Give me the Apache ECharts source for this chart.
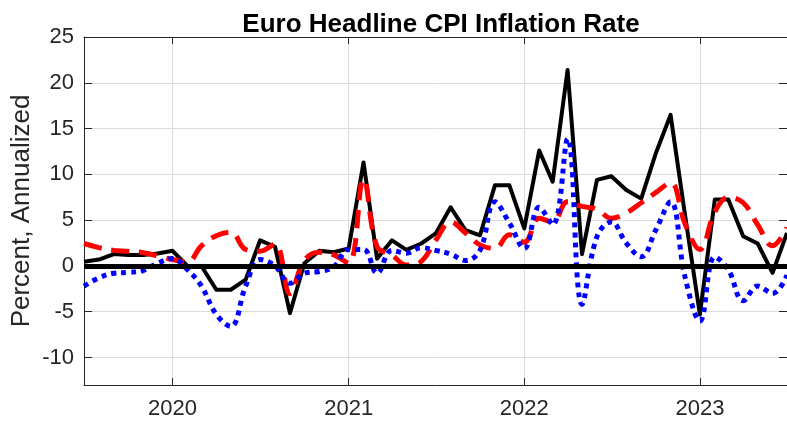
<!DOCTYPE html>
<html>
<head>
<meta charset="utf-8">
<title>Euro Headline CPI Inflation Rate</title>
<script src="https://cdn.jsdelivr.net/npm/echarts@6/dist/echarts.min.js"></script>
<style>
html, body { margin: 0; padding: 0; background: #fff; }
#main { width: 787px; height: 425px; }
</style>
</head>
<body>
<div id="main"></div>
<script>
// monthly observations, Jul 2019 .. Jul 2023
var months = [
  '2019-07-01','2019-08-01','2019-09-01','2019-10-01','2019-11-01','2019-12-01',
  '2020-01-01','2020-02-01','2020-03-01','2020-04-01','2020-05-01','2020-06-01',
  '2020-07-01','2020-08-01','2020-09-01','2020-10-01','2020-11-01','2020-12-01',
  '2021-01-01','2021-02-01','2021-03-01','2021-04-01','2021-05-01','2021-06-01',
  '2021-07-01','2021-08-01','2021-09-01','2021-10-01','2021-11-01','2021-12-01',
  '2022-01-01','2022-02-01','2022-03-01','2022-04-01','2022-05-01','2022-06-01',
  '2022-07-01','2022-08-01','2022-09-01','2022-10-01','2022-11-01','2022-12-01',
  '2023-01-01','2023-02-01','2023-03-01','2023-04-01','2023-05-01','2023-06-01',
  '2023-07-01'
];

// black solid
var headline = [
  0.45, 0.7, 1.3, 1.2, 1.2, 1.35,
  1.65, 0.0, 0.0, -2.6, -2.6, -1.5,
  2.8, 2.1, -5.15, 0.3, 1.65, 1.5,
  1.9, 11.3, 0.8, 2.8, 1.75, 2.45,
  3.55, 6.4, 3.9, 3.35, 8.8, 8.8,
  4.1, 12.6, 9.2, 21.4, 1.3, 9.4,
  9.8, 8.3, 7.35, 12.25, 16.5, 5.6,
  -5.3, 7.25, 7.25, 3.25, 2.45, -0.75,
  3.6
];

// red dashed
var redLine = [
  2.45, 2.0, 1.7, 1.6, 1.45, 1.1,
  0.7, 0.45, 2.2, 3.3, 3.7, 1.8,
  1.6, 2.4, -3.0, 0.6, 1.5, 1.2,
  0.3, 9.5, 2.1, 1.2, 0.1, 0.5,
  2.8, 4.8, 3.6, 2.3, 1.9, 3.4,
  2.6, 5.2, 4.8, 7.0, 6.5, 6.2,
  5.2, 5.8, 6.9, 8.0, 9.1, 4.6,
  1.8, 5.9, 7.5, 6.9, 4.5, 2.2,
  4.2
];

// blue dotted
var blueLine = [
  -2.2, -1.3, -0.8, -0.7, -0.5, 0.3,
  0.8, -0.4, -2.2, -5.3, -6.6, -2.2,
  0.7, 0.0, -1.9, -0.8, -0.6, -0.1,
  1.8, 1.8, -0.8, 1.7, 1.4, 2.0,
  1.7, 1.3, 0.6, 1.7, 7.0, 4.7,
  1.9, 6.4, 4.5, 13.9, -4.2, 3.2,
  4.8, 2.5, 1.0, 3.9, 7.0, -1.2,
  -6.0, 1.0, -0.4, -3.8, -2.2, -3.0,
  -1.0
];

var yearTicks = ['2020-01-01', '2021-01-01', '2022-01-01', '2023-01-01'];
var yTicks = [-10, -5, 0, 5, 10, 15, 20, 25];

var xMin = Date.parse('2019-07-01');
var xMax = Date.parse('2023-07-01');
var xTicks = yearTicks.map(function (d) { return Date.parse(d); });

function pairs(vals) {
  return months.map(function (m, i) { return [Date.parse(m), vals[i]]; });
}

var axisColor = '#262626';
var font = 'Liberation Sans, Arial, sans-serif';

var myChart = echarts.init(document.getElementById('main'));
myChart.setOption({
  animation: false,
  title: {
    text: 'Euro Headline CPI Inflation Rate',
    left: 436,
    top: 7,
    textAlign: 'center',
    textStyle: { fontSize: 26, fontWeight: 'bold', color: '#000', fontFamily: font }
  },
  grid: { left: 84, right: 0, top: 37, bottom: 40, containLabel: false, outerBoundsMode: 'none' },
  xAxis: [{
    type: 'value',
    min: xMin,
    max: xMax,
    axisLine: { show: true, onZero: false, lineStyle: { color: axisColor, width: 1 } },
    axisTick: { show: true, inside: true, length: 7, customValues: xTicks, lineStyle: { color: axisColor } },
    axisLabel: {
      customValues: xTicks,
      fontSize: 22, color: axisColor, fontFamily: font, margin: 13,
      formatter: function (v) { return String(new Date(v).getUTCFullYear()); }
    },
    splitLine: { show: true, lineStyle: { color: '#dcdcdc', width: 1 } }
  }, {
    type: 'value',
    position: 'top',
    min: xMin,
    max: xMax,
    axisLine: { show: true, onZero: false, lineStyle: { color: axisColor, width: 1 } },
    axisTick: { show: true, inside: true, length: 7, customValues: xTicks, lineStyle: { color: axisColor } },
    axisLabel: { show: false },
    splitLine: { show: false }
  }],
  yAxis: [{
    type: 'value',
    min: -13,
    max: 25,
    name: 'Percent, Annualized',
    nameLocation: 'middle',
    nameGap: 49,
    nameMoveOverlap: false,
    nameTextStyle: { fontSize: 26, color: axisColor, fontFamily: font },
    axisLine: { show: true, lineStyle: { color: axisColor, width: 1 } },
    axisTick: { show: true, inside: true, length: 8, customValues: yTicks, lineStyle: { color: axisColor } },
    axisLabel: { customValues: yTicks, fontSize: 22, color: axisColor, fontFamily: font, margin: 10 },
    splitLine: { show: true, lineStyle: { color: '#dcdcdc', width: 1 } }
  }, {
    type: 'value',
    position: 'right',
    min: -13,
    max: 25,
    axisLine: { show: true, lineStyle: { color: axisColor, width: 1 } },
    axisTick: { show: true, inside: true, length: 8, customValues: yTicks, lineStyle: { color: axisColor } },
    axisLabel: { show: false },
    splitLine: { show: false }
  }],
  series: [{
    name: 'Headline',
    type: 'line',
    showSymbol: false,
    data: pairs(headline),
    lineStyle: { color: '#000', width: 4, join: 'round' }
  }, {
    name: 'Red',
    type: 'line',
    showSymbol: false,
    smooth: 0.4,
    data: pairs(redLine),
    lineStyle: { color: '#ff0000', width: 5, type: [18, 10] }
  }, {
    name: 'Blue',
    type: 'line',
    showSymbol: false,
    smooth: 0.4,
    data: pairs(blueLine),
    lineStyle: { color: '#0000ff', width: 5, type: [5, 5] },
    markLine: {
      silent: true,
      symbol: 'none',
      label: { show: false },
      lineStyle: { color: '#000', width: 5, type: 'solid' },
      data: [{ yAxis: 0 }]
    }
  }]
});
</script>
</body>
</html>
